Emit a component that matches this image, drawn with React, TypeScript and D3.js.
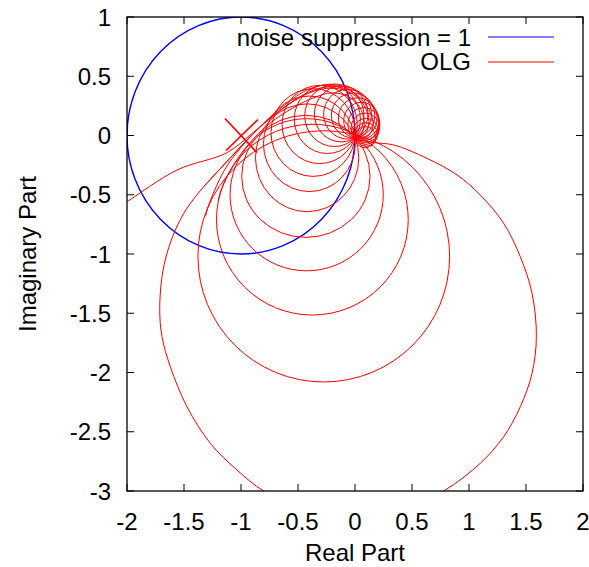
import React from "react";
import * as d3 from "d3";

const W = 589;
const H = 567;

const X_TICKS = [-2, -1.5, -1, -0.5, 0, 0.5, 1, 1.5, 2];
const Y_TICKS = [1, 0.5, 0, -0.5, -1, -1.5, -2, -2.5, -3];
const X_TICK_LABELS = ["-2", "-1.5", "-1", "-0.5", "0", "0.5", "1", "1.5", "2"];
const Y_TICK_LABELS = ["1", "0.5", "0", "-0.5", "-1", "-1.5", "-2", "-2.5", "-3"];

// noise suppression = 1 : |1 + OLG| = 1
const NS_CENTER: [number, number] = [-1, 0];
const NS_RADIUS = 1;

// OLG: low-frequency branch entering from the left
const olgIncoming: [number, number][] = [
  [-2.1, -0.62], [-2.0, -0.559], [-1.561, -0.291], [-1.123, -0.145], [-0.9, 0.02],
  [-0.66, 0.21], [-0.45, 0.345], [-0.28, 0.405], [-0.12, 0.405], [0.02, 0.34],
  [0.12, 0.22], [0.16, 0.1], [0.12, 0.0], [0.03, -0.03],
];

// OLG: first (largest) loop, upper part (from the left side up over the top)
const olgFirstLoopTop: [number, number][] = [
  [-1.327, -0.432], [-1.152, -0.249], [-0.95, -0.04], [-0.75, 0.15], [-0.6, 0.27],
  [-0.42, 0.385], [-0.25, 0.43], [-0.1, 0.425], [0.05, 0.36], [0.16, 0.25],
  [0.21, 0.12], [0.19, 0.02], [0.12, -0.035], [0.05, -0.04],
];
// OLG: first loop, lower part (right side, bottom, left side)
const olgFirstLoopLow: [number, number][] = [
  [0.05, -0.04], [0.164, -0.06], [0.339, -0.08], [0.632, -0.193], [0.895, -0.333],
  [1.099, -0.502], [1.304, -0.741], [1.45, -1.023], [1.553, -1.332], [1.591, -1.698],
  [1.553, -2.007], [1.45, -2.289], [1.304, -2.542], [1.099, -2.766], [0.778, -3.0],
  [0.4, -3.17], [0.0, -3.23], [-0.4, -3.17], [-0.801, -3.0], [-1.035, -2.823],
  [-1.269, -2.598], [-1.474, -2.289], [-1.62, -1.951], [-1.693, -1.698], [-1.713, -1.473],
  [-1.693, -1.191], [-1.649, -0.994], [-1.576, -0.797], [-1.474, -0.614], [-1.327, -0.432],
  [-1.152, -0.249], [-0.95, -0.04],
];

// OLG: upper arcs of the following large loops (leaving their left sides)
const olgBundleA: [number, number][] = [
  [-1.31, -0.68], [-1.288, -0.6], [-1.15, -0.3], [-1.0, -0.1], [-0.8, 0.1], [-0.6, 0.25], [-0.4, 0.36],
  [-0.22, 0.4], [-0.06, 0.37], [0.06, 0.28], [0.12, 0.15], [0.1, 0.03], [0.02, -0.02],
];
const olgBundleB: [number, number][] = [
  [-1.2, -0.55], [-1.17, -0.45], [-1.06, -0.24], [-0.93, -0.07], [-0.75, 0.1], [-0.55, 0.23], [-0.36, 0.32],
  [-0.2, 0.36], [-0.06, 0.33], [0.04, 0.24], [0.08, 0.12], [0.06, 0.02], [0.0, -0.02],
];

// OLG: later loops (centre, half-width, half-height) in data units
const loopCx = [-0.274, -0.374, -0.424, -0.431, -0.42, -0.4, -0.367, -0.31, -0.243, -0.181, -0.121, -0.065, -0.017, 0.024, 0.056, 0.078, 0.091, 0.095, 0.096, 0.09];
const loopCy = [-1.02, -0.71, -0.5, -0.345, -0.188, -0.07, 0.025, 0.093, 0.138, 0.167, 0.181, 0.18, 0.169, 0.148, 0.125, 0.096, 0.065, 0.035, 0.009, -0.014];
const loopRx = [1.104, 0.841, 0.672, 0.563, 0.453, 0.403, 0.37, 0.33, 0.29, 0.26, 0.235, 0.21, 0.19, 0.17, 0.155, 0.14, 0.125, 0.11, 0.1, 0.09];
const loopRy = [1.06, 0.805, 0.642, 0.515, 0.455, 0.403, 0.37, 0.33, 0.29, 0.26, 0.235, 0.21, 0.19, 0.17, 0.155, 0.14, 0.125, 0.11, 0.1, 0.09];

// marker at the critical point
const CRIT: [number, number] = [-1, 0];

const LEGEND = ["noise suppression = 1", "OLG"];
const COLORS = ["#0000ff", "#ff0000"];

export default function App() {
  const left = 127, right = 583, top = 17, bottom = 491;
  const x = d3.scaleLinear().domain([-2, 2]).range([left, right]);
  const y = d3.scaleLinear().domain([-3, 1]).range([bottom, top]);
  const font = "'Liberation Sans', Arial, Helvetica, sans-serif";
  const fs = 24;
  const tick = 7;

  const line = d3.line<[number, number]>().x((d) => x(d[0])).y((d) => y(d[1])).curve(d3.curveCatmullRom.alpha(0.5));

  const kx = x(1) - x(0);
  const ky = y(0) - y(1);

  return (
    <svg width={W} height={H} style={{ position: "absolute", left: 0, top: 0, background: "#fff" }} fontFamily={font}>
      <defs>
        <clipPath id="plotclip">
          <rect x={left} y={top} width={right - left} height={bottom - top} />
        </clipPath>
      </defs>
      <rect x={0} y={0} width={W} height={H} fill="#fff" />

      <g clipPath="url(#plotclip)">
        <ellipse cx={x(NS_CENTER[0])} cy={y(NS_CENTER[1])} rx={NS_RADIUS * kx} ry={NS_RADIUS * ky} fill="none" stroke={COLORS[0]} strokeWidth={1.4} />
        <g fill="none" stroke={COLORS[1]} strokeWidth={1}>
          <path d={line(olgIncoming) || ""} />
          <path d={line(olgFirstLoopTop) || ""} />
          <path d={line(olgFirstLoopLow) || ""} />
          <path d={line(olgBundleA) || ""} />
          <path d={line(olgBundleB) || ""} />
          {loopCx.map((cx, i) => (
            <ellipse key={i} cx={x(cx)} cy={y(loopCy[i])} rx={loopRx[i] * kx} ry={loopRy[i] * ky} />
          ))}
          <line x1={x(CRIT[0]) - 16} y1={y(CRIT[1]) - 17} x2={x(CRIT[0]) + 16} y2={y(CRIT[1]) + 17} strokeWidth={1.7} />
          <line x1={x(CRIT[0]) - 15} y1={y(CRIT[1]) + 15} x2={x(CRIT[0]) + 17} y2={y(CRIT[1]) - 16} strokeWidth={1.7} />
        </g>
      </g>

      {/* border */}
      <rect x={left} y={top} width={right - left} height={bottom - top} fill="none" stroke="#000" strokeWidth={1.3} />
      {/* ticks */}
      <g stroke="#000" strokeWidth={1}>
        {X_TICKS.map((t, i) => (
          <g key={"xt" + i}>
            <line x1={x(t)} x2={x(t)} y1={bottom} y2={bottom - tick} />
            <line x1={x(t)} x2={x(t)} y1={top} y2={top + tick} />
          </g>
        ))}
        {Y_TICKS.map((t, i) => (
          <g key={"yt" + i}>
            <line x1={left} x2={left + tick} y1={y(t)} y2={y(t)} />
            <line x1={right} x2={right - tick} y1={y(t)} y2={y(t)} />
          </g>
        ))}
      </g>
      {/* tick labels */}
      <g fontSize={fs} fill="#000">
        {X_TICKS.map((t, i) => (
          <text key={"xl" + i} x={x(t)} y={530} textAnchor="middle">{X_TICK_LABELS[i]}</text>
        ))}
        {Y_TICKS.map((t, i) => (
          <text key={"yl" + i} x={111} y={y(t) + 8.5} textAnchor="end">{Y_TICK_LABELS[i]}</text>
        ))}
        <text x={(left + right) / 2} y={561} textAnchor="middle">Real Part</text>
        <text transform={`translate(36, ${(top + bottom) / 2}) rotate(-90)`} textAnchor="middle">Imaginary Part</text>
      </g>
      {/* legend */}
      <g fontSize={fs} fill="#000">
        {LEGEND.map((name, i) => (
          <g key={name}>
            <text x={471} y={46 + i * 24} textAnchor="end">{name}</text>
            <line x1={488} x2={554} y1={37 + i * 25} y2={37 + i * 25} stroke={COLORS[i]} strokeWidth={1} />
          </g>
        ))}
      </g>
    </svg>
  );
}
